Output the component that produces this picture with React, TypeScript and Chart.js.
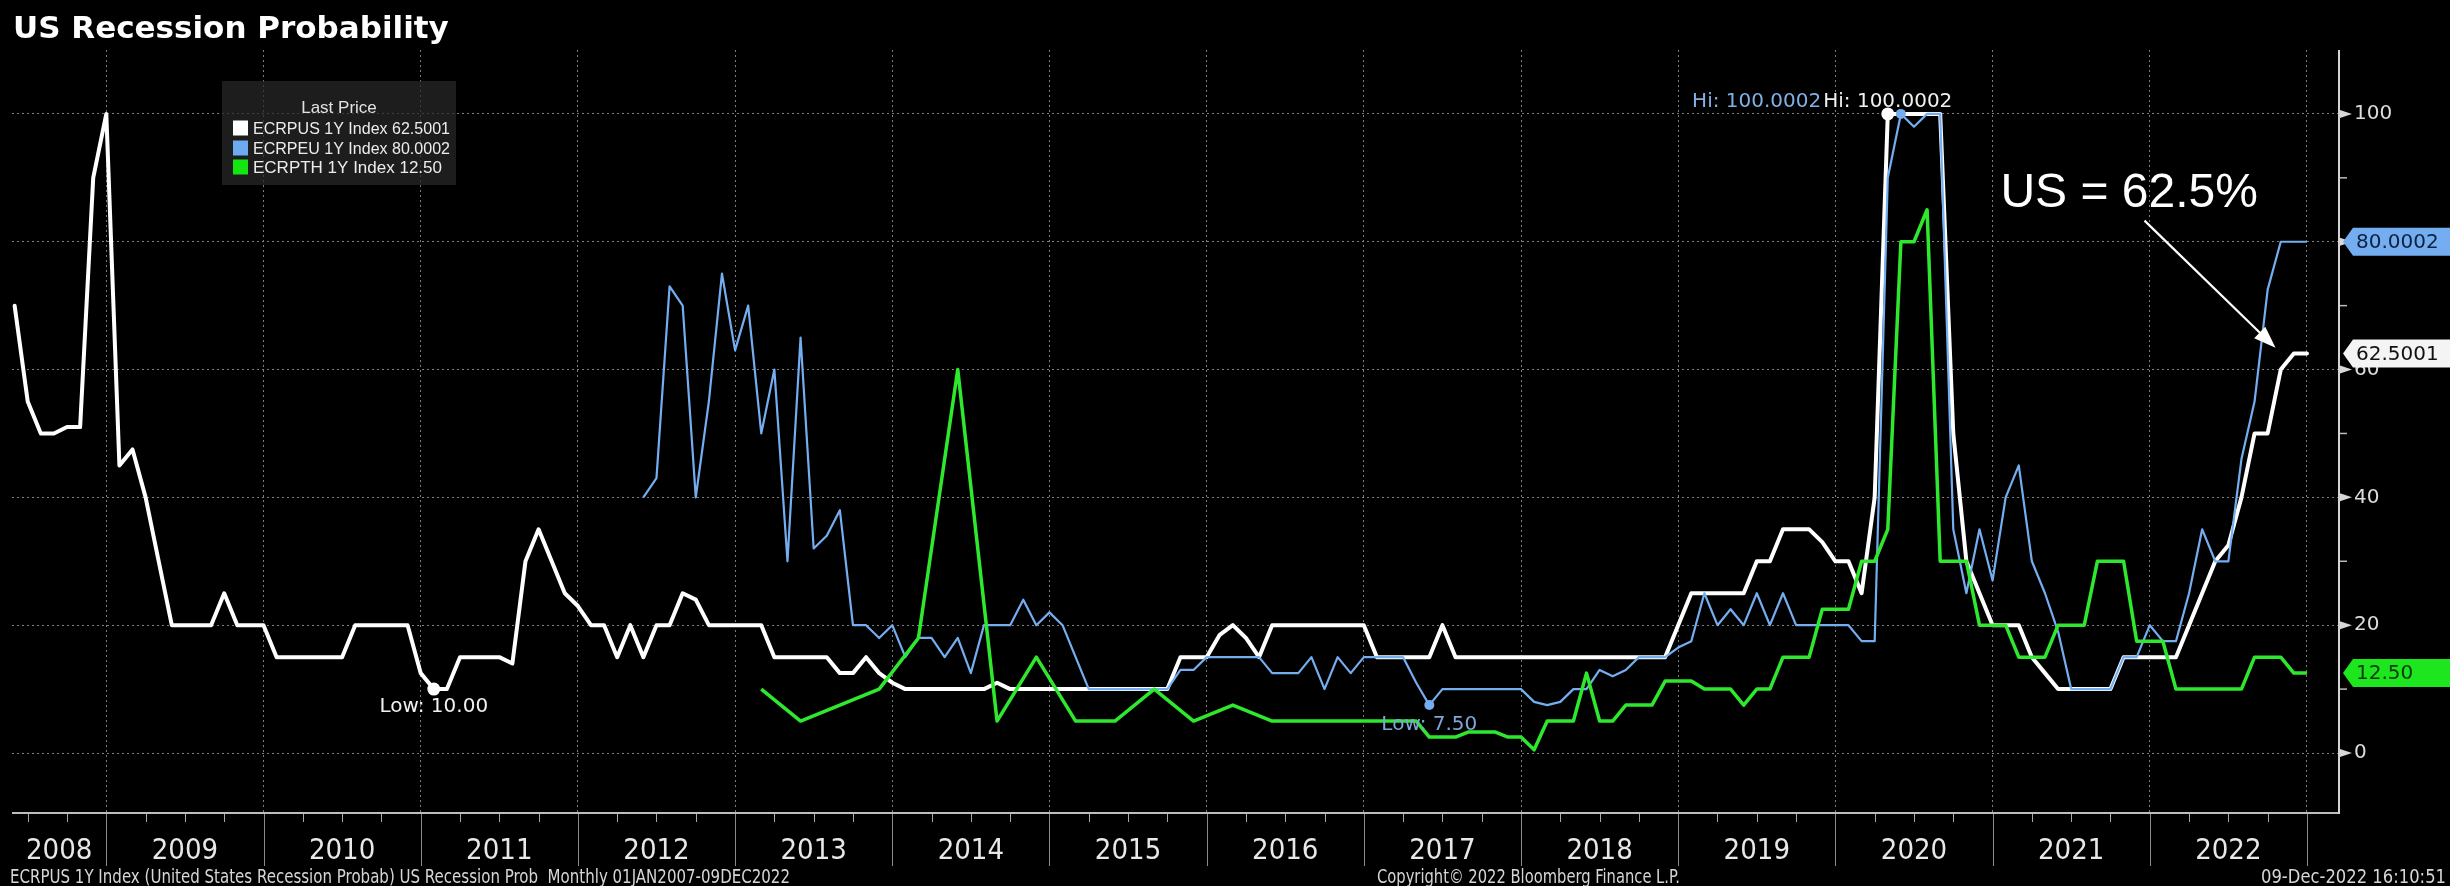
import React, { useEffect, useRef } from 'react';
import { Chart, registerables } from 'chart.js';

Chart.register(...registerables);

const N = null;

// ---------- text ----------
const chartTitle = 'US Recession Probability';
const yearLabels = ['2008', '2009', '2010', '2011', '2012', '2013', '2014', '2015', '2016', '2017', '2018', '2019', '2020', '2021', '2022'];
const seriesNames = ['ECRPUS 1Y Index', 'ECRPEU 1Y Index', 'ECRPTH 1Y Index'];
const lastPrices = ['62.5001', '80.0002', '12.50'];
const hiLabels = ['Hi: 100.0002', 'Hi: 100.0002'];
const lowLabels = ['Low: 10.00', 'Low: 7.50'];
const yTickValues = [0, 10, 20, 30, 40, 50, 60, 70, 80, 90, 100];
const calloutText = 'US = 62.5%';
const footerTexts = [
  'ECRPUS 1Y Index (United States Recession Probab) US Recession Prob  Monthly 01JAN2007-09DEC2022',
  'Copyright\u00A9 2022 Bloomberg Finance L.P.',
  '09-Dec-2022 16:10:51',
];

// ---------- data: monthly (month-end) points, May 2008 .. Dec 2022 ----------
// index 7 = Dec 2008 (plotted on the 2009 boundary)
const us = [
  70, 55, 50, 50, 51, 51, 90, 100, 45, 47.5, 40, 30,
  20, 20, 20, 20, 25, 20, 20, 20, 15, 15, 15, 15,
  15, 15, 20, 20, 20, 20, 20, 12.5, 10, 10, 15, 15,
  15, 15, 14, 30, 35, 30, 25, 23, 20, 20, 15, 20,
  15, 20, 20, 25, 24, 20, 20, 20, 20, 20, 15, 15,
  15, 15, 15, 12.5, 12.5, 15, 12.5, 11, 10, 10, 10, 10,
  10, 10, 10, 11, 10, 10, 10, 10, 10, 10, 10, 10,
  10, 10, 10, 10, 10, 15, 15, 15, 18.5, 20, 18, 15,
  20, 20, 20, 20, 20, 20, 20, 20, 15, 15, 15, 15,
  15, 20, 15, 15, 15, 15, 15, 15, 15, 15, 15, 15,
  15, 15, 15, 15, 15, 15, 15, 20, 25, 25, 25, 25,
  25, 30, 30, 35, 35, 35, 33, 30, 30, 25, 40, 100.0002,
  100.0002, 100.0002, 100.0002, 100.0002, 50, 30, 25, 20, 20, 20, 15, 12.5,
  10, 10, 10, 10, 10, 15, 15, 15, 15, 15, 20, 25,
  30, 32.5, 40, 50, 50, 60, 62.5001, 62.5001,
];

const eu = [
  N, N, N, N, N, N, N, N, N, N, N, N,
  N, N, N, N, N, N, N, N, N, N, N, N,
  N, N, N, N, N, N, N, N, N, N, N, N,
  N, N, N, N, N, N, N, N, N, N, N, N,
  40, 43, 73, 70, 40, 55, 75, 63, 70, 50, 60, 30,
  65, 32, 34, 38, 20, 20, 18, 20, 15, 18, 18, 15,
  18, 12.5, 20, 20, 20, 24, 20, 22, 20, 15, 10, 10,
  10, 10, 10, 10, 10, 13, 13, 15, 15, 15, 15, 15,
  12.5, 12.5, 12.5, 15, 10, 15, 12.5, 15, 15, 15, 15, 11,
  7.5, 10, 10, 10, 10, 10, 10, 10, 8, 7.5, 8, 10,
  10, 13, 12, 13, 15, 15, 15, 16.5, 17.5, 25, 20, 22.5,
  20, 25, 20, 25, 20, 20, 20, 20, 20, 17.5, 17.5, 90,
  100.0002, 98, 100.0002, 100.0002, 35, 25, 35, 27, 40, 45, 30, 25,
  19, 10, 10, 10, 10, 15, 15, 20, 17.5, 17.5, 25, 35,
  30, 30, 46, 55, 72.5, 80.0002, 80.0002, 80.0002,
];

const th = [
  N, N, N, N, N, N, N, N, N, N, N, N,
  N, N, N, N, N, N, N, N, N, N, N, N,
  N, N, N, N, N, N, N, N, N, N, N, N,
  N, N, N, N, N, N, N, N, N, N, N, N,
  N, N, N, N, N, N, N, N, N, 10, N, N,
  5, N, N, 7.5, N, N, 10, N, N, 18, N, N,
  60, N, N, 5, N, N, 15, N, N, 5, N, N,
  5, N, N, 10, N, N, 5, N, N, 7.5, N, N,
  5, 5, 5, 5, 5, 5, 5, 5, 5, 5, 5, 5,
  2.5, 2.5, 2.5, 3.3, 3.3, 3.3, 2.5, 2.5, 0.5, 5, 5, 5,
  12.5, 5, 5, 7.5, 7.5, 7.5, 11.25, 11.25, 11.25, 10, 10, 10,
  7.5, 10, 10, 15, 15, 15, 22.5, 22.5, 22.5, 30, 30, 35,
  80, 80, 85, 30, 30, 30, 20, 20, 20, 15, 15, 15,
  20, 20, 20, 30, 30, 30, 17.5, 17.5, 17.5, 10, 10, 10,
  10, 10, 10, 15, 15, 15, 12.5, 12.5,
];

// ---------- layout / style ----------
const W = 2450;
const H = 886;
const X_MIN = -0.2;
const X_MAX = 177.37;
const Y_MIN = -9.23;
const Y_MAX = 110;
const JAN_2009 = 7;

const C_US = '#ffffff';
const C_EU = '#74aef0';
const C_TH = '#2ee82e';
const GRID = '#7c7c7c';

const F_UI = '"DejaVu Sans", Verdana, sans-serif';
const F_NARROW = '"Liberation Sans Narrow", "Arial Narrow", "DejaVu Sans Condensed", "Liberation Sans", sans-serif';
const F_SANS = '"Liberation Sans", Arial, sans-serif';

const boundaries = yearLabels.map((_, k) => JAN_2009 + 12 * k);
const mids = yearLabels.map((_, k) => (k === 0 ? (X_MIN + JAN_2009) / 2 : JAN_2009 + 12 * (k - 1) + 6));
const xTicks = [
  ...boundaries.map((v) => ({ value: v, label: '', grid: true })),
  ...mids.map((v, k) => ({ value: v, label: yearLabels[k], grid: false })),
].sort((a, b) => a.value - b.value);

const isBoundary = (v: number) => Number.isInteger((v - JAN_2009) / 12);

const firstIndexOf = (arr: (number | null)[], target: number) => arr.findIndex((v) => v === target);
const numeric = (arr: (number | null)[]) => arr.filter((v) => v !== null) as number[];
const lastOf = (arr: (number | null)[]) => {
  for (let i = arr.length - 1; i >= 0; i--) if (arr[i] !== null) return arr[i] as number;
  return 0;
};

const overlayPlugin = {
  id: 'bbgOverlay',
  beforeDraw(chart: any) {
    const { ctx } = chart;
    ctx.save();
    ctx.fillStyle = '#000000';
    ctx.fillRect(0, 0, chart.width, chart.height);
    ctx.restore();
  },
  afterDatasetsDraw(chart: any) {
    const { ctx, chartArea: ca } = chart;
    const xs = chart.scales.x;
    const ys = chart.scales.y;
    ctx.save();

    // bottom axis band
    ctx.strokeStyle = '#bdbdbd';
    ctx.lineWidth = 2;
    ctx.beginPath();
    ctx.moveTo(ca.left, ca.bottom + 1);
    ctx.lineTo(ca.right, ca.bottom + 1);
    ctx.stroke();

    ctx.strokeStyle = '#8a8a8a';
    ctx.lineWidth = 1;
    boundaries.forEach((v) => {
      const x = Math.round(xs.getPixelForValue(v)) + 0.5;
      ctx.beginPath();
      ctx.moveTo(x, ca.bottom + 2);
      ctx.lineTo(x, ca.bottom + 54);
      ctx.stroke();
    });
    ctx.strokeStyle = '#a8a8a8';
    for (let v = JAN_2009 - 6; v <= X_MAX; v += 3) {
      if (v < X_MIN || isBoundary(v)) continue;
      const x = Math.round(xs.getPixelForValue(v)) + 0.5;
      ctx.beginPath();
      ctx.moveTo(x, ca.bottom + 2);
      ctx.lineTo(x, ca.bottom + 10);
      ctx.stroke();
    }

    // right axis line
    ctx.strokeStyle = '#d4d4d4';
    ctx.lineWidth = 2;
    ctx.beginPath();
    ctx.moveTo(ca.right + 1, ca.top);
    ctx.lineTo(ca.right + 1, ca.bottom + 2);
    ctx.stroke();

    // y tick marks
    ctx.fillStyle = '#d8d8d8';
    ctx.strokeStyle = '#bcbcbc';
    ctx.lineWidth = 1.5;
    yTickValues.forEach((v) => {
      const y = ys.getPixelForValue(v);
      if (v % 20 === 0) {
        ctx.beginPath();
        ctx.moveTo(ca.right + 2, y - 4);
        ctx.lineTo(ca.right + 14, y);
        ctx.lineTo(ca.right + 2, y + 4);
        ctx.closePath();
        ctx.fill();
      } else {
        ctx.beginPath();
        ctx.moveTo(ca.right + 2, y);
        ctx.lineTo(ca.right + 9, y);
        ctx.stroke();
      }
    });

    // last value boxes
    const boxes = [
      { v: lastOf(eu), text: lastPrices[1], bg: '#74aef0', fg: '#0d2140' },
      { v: lastOf(us), text: lastPrices[0], bg: '#f4f4f4', fg: '#111111' },
      { v: lastOf(th), text: lastPrices[2], bg: '#1ee61e', fg: '#063a06' },
    ];
    ctx.font = `20px ${F_UI}`;
    ctx.textBaseline = 'middle';
    ctx.textAlign = 'left';
    boxes.forEach((b) => {
      const y = ys.getPixelForValue(b.v);
      const x0 = ca.right + 5;
      ctx.fillStyle = b.bg;
      ctx.beginPath();
      ctx.moveTo(x0, y);
      ctx.lineTo(x0 + 10, y - 14);
      ctx.lineTo(W, y - 14);
      ctx.lineTo(W, y + 14);
      ctx.lineTo(x0 + 10, y + 14);
      ctx.closePath();
      ctx.fill();
      ctx.fillStyle = b.fg;
      ctx.fillText(b.text, x0 + 13, y + 1);
    });

    // legend box
    const lx = 222, ly = 81, lw = 234, lh = 104;
    ctx.fillStyle = 'rgba(40,40,40,0.72)';
    ctx.fillRect(lx, ly, lw, lh);
    ctx.font = `17px ${F_SANS}`;
    ctx.fillStyle = '#e2e2e2';
    ctx.textAlign = 'center';
    ctx.fillText('Last Price', lx + lw / 2, 108);
    const lcol = ['#ffffff', '#6eaaf0', '#14e614'];
    const rowsY = [128, 148, 167];
    ctx.textAlign = 'left';
    seriesNames.forEach((name, k) => {
      ctx.fillStyle = lcol[k];
      ctx.fillRect(233, rowsY[k] - 7.5, 15, 15);
      ctx.fillStyle = '#ececec';
      ctx.fillText(`${name} ${lastPrices[k]}`, 253, rowsY[k] + 1, 197);
    });

    // hi / low markers
    const iHiUs = firstIndexOf(us, Math.max(...numeric(us)));
    const iHiEu = firstIndexOf(eu, Math.max(...numeric(eu)));
    const iLoUs = firstIndexOf(us, Math.min(...numeric(us)));
    const iLoEu = firstIndexOf(eu, Math.min(...numeric(eu)));
    const dot = (x: number, y: number, r: number, c: string) => {
      ctx.fillStyle = c;
      ctx.beginPath();
      ctx.arc(x, y, r, 0, Math.PI * 2);
      ctx.fill();
    };
    ctx.font = `20px ${F_UI}`;
    ctx.textBaseline = 'alphabetic';

    const hx = xs.getPixelForValue(iHiUs);
    const hy = ys.getPixelForValue(us[iHiUs] as number);
    const hbx = xs.getPixelForValue(iHiEu);
    const hby = ys.getPixelForValue(eu[iHiEu] as number);
    dot(hbx, hby, 5, C_EU);
    dot(hx, hy, 6.5, C_US);
    ctx.textAlign = 'center';
    ctx.fillStyle = '#f0f0f0';
    ctx.fillText(hiLabels[0], hx, hy - 7);
    const wHi = ctx.measureText(hiLabels[0]).width;
    ctx.textAlign = 'right';
    ctx.fillStyle = '#7fb0e6';
    ctx.fillText(hiLabels[1], hx - wHi / 2 - 2, hy - 7);

    const lux = xs.getPixelForValue(iLoUs);
    const luy = ys.getPixelForValue(us[iLoUs] as number);
    dot(lux, luy, 6.5, C_US);
    ctx.textAlign = 'center';
    ctx.fillStyle = '#f0f0f0';
    ctx.fillText(lowLabels[0], lux, luy + 23);

    const lex = xs.getPixelForValue(iLoEu);
    const ley = ys.getPixelForValue(eu[iLoEu] as number);
    dot(lex, ley, 5, C_EU);
    ctx.fillStyle = '#7fa6d6';
    ctx.fillText(lowLabels[1], lex, ley + 25);

    // callout text + arrow
    ctx.font = `48px ${F_SANS}`;
    ctx.fillStyle = '#ffffff';
    ctx.textAlign = 'left';
    ctx.fillText(calloutText, xs.getPixelForValue(151.6), ys.getPixelForValue(85.4));
    const sx = xs.getPixelForValue(162.6), sy = ys.getPixelForValue(83.3);
    const tx = xs.getPixelForValue(172.6), ty = ys.getPixelForValue(63.4);
    const ang = Math.atan2(ty - sy, tx - sx);
    const ca2 = Math.cos(ang), sa2 = Math.sin(ang);
    ctx.strokeStyle = '#ffffff';
    ctx.lineWidth = 2.2;
    ctx.beginPath();
    ctx.moveTo(sx, sy);
    ctx.lineTo(tx - 16 * ca2, ty - 16 * sa2);
    ctx.stroke();
    ctx.beginPath();
    ctx.moveTo(tx, ty);
    ctx.lineTo(tx - 22 * ca2 + 8 * sa2, ty - 22 * sa2 - 8 * ca2);
    ctx.lineTo(tx - 22 * ca2 - 8 * sa2, ty - 22 * sa2 + 8 * ca2);
    ctx.closePath();
    ctx.fillStyle = '#ffffff';
    ctx.fill();

    ctx.restore();
  },
  afterDraw(chart: any) {
    const { ctx } = chart;
    ctx.save();
    ctx.textBaseline = 'alphabetic';
    ctx.fillStyle = '#ffffff';
    ctx.textAlign = 'left';
    ctx.font = `bold 31px ${F_UI}`;
    ctx.fillText(chartTitle, 13, 38, 446);

    ctx.font = `19px ${F_NARROW}`;
    ctx.fillStyle = '#d6d6d6';
    ctx.fillText(footerTexts[0], 10, 883, 780);
    ctx.fillText(footerTexts[1], 1377, 883, 303);
    ctx.textAlign = 'right';
    ctx.fillText(footerTexts[2], 2446, 883, 185);
    ctx.restore();
  },
};

export default function App() {
  const canvasRef = useRef<HTMLCanvasElement | null>(null);

  useEffect(() => {
    const canvas = canvasRef.current;
    if (!canvas) return;
    const toPts = (arr: (number | null)[]) => arr.map((v, i) => ({ x: i, y: v }));

    const chart = new Chart(canvas, {
      type: 'line',
      data: {
        datasets: [
          {
            label: seriesNames[0],
            data: toPts(us) as any,
            borderColor: C_US,
            borderWidth: 4,
            pointRadius: 0,
            tension: 0,
            borderJoinStyle: 'round',
            borderCapStyle: 'round',
            order: 3,
          },
          {
            label: seriesNames[1],
            data: toPts(eu) as any,
            borderColor: C_EU,
            borderWidth: 2.2,
            pointRadius: 0,
            tension: 0,
            borderJoinStyle: 'round',
            order: 2,
          },
          {
            label: seriesNames[2],
            data: toPts(th) as any,
            borderColor: C_TH,
            borderWidth: 3.5,
            pointRadius: 0,
            tension: 0,
            spanGaps: true,
            borderJoinStyle: 'round',
            order: 1,
          },
        ],
      },
      options: {
        responsive: false,
        animation: false,
        devicePixelRatio: 1,
        events: [],
        layout: { padding: { left: 12, top: 50, right: 0, bottom: 0 } },
        plugins: {
          legend: { display: false },
          tooltip: { enabled: false },
          title: { display: false },
        },
        scales: {
          x: {
            type: 'linear',
            min: X_MIN,
            max: X_MAX,
            afterBuildTicks: (s: any) => {
              s.ticks = xTicks.map((t) => ({ value: t.value }));
            },
            afterFit: (s: any) => {
              s.height = 74;
              s.paddingLeft = 0;
              s.paddingRight = 0;
            },
            grid: {
              color: (c: any) => (xTicks[c.index] && xTicks[c.index].grid ? GRID : 'rgba(0,0,0,0)'),
              lineWidth: 1,
              drawTicks: false,
            },
            border: { display: false, dash: [2, 3] },
            ticks: {
              autoSkip: false,
              maxRotation: 0,
              minRotation: 0,
              padding: 22,
              color: '#e8e8e8',
              font: { family: F_NARROW, size: 29 },
              callback: (_v: any, i: number) => (xTicks[i] ? xTicks[i].label : ''),
            },
          },
          y: {
            type: 'linear',
            position: 'right',
            min: Y_MIN,
            max: Y_MAX,
            afterBuildTicks: (s: any) => {
              s.ticks = yTickValues.map((v) => ({ value: v }));
            },
            afterFit: (s: any) => {
              s.width = W - 2338;
              s.paddingTop = 0;
              s.paddingBottom = 0;
            },
            grid: {
              color: (c: any) => (c.tick && c.tick.value % 20 === 0 ? GRID : 'rgba(0,0,0,0)'),
              lineWidth: 1,
              drawTicks: false,
            },
            border: { display: false, dash: [2, 3] },
            ticks: {
              padding: 16,
              color: '#dcdcdc',
              font: { family: F_UI, size: 20 },
              callback: (v: any) => (Number(v) % 20 === 0 ? String(v) : ''),
            },
          },
        },
      } as any,
      plugins: [overlayPlugin as any],
    });

    return () => chart.destroy();
  }, []);

  return (
    <div style={{ position: 'fixed', left: 0, top: 0, width: W, height: H, background: '#000' }}>
      <canvas ref={canvasRef} width={W} height={H} style={{ display: 'block', width: W, height: H }} />
    </div>
  );
}
